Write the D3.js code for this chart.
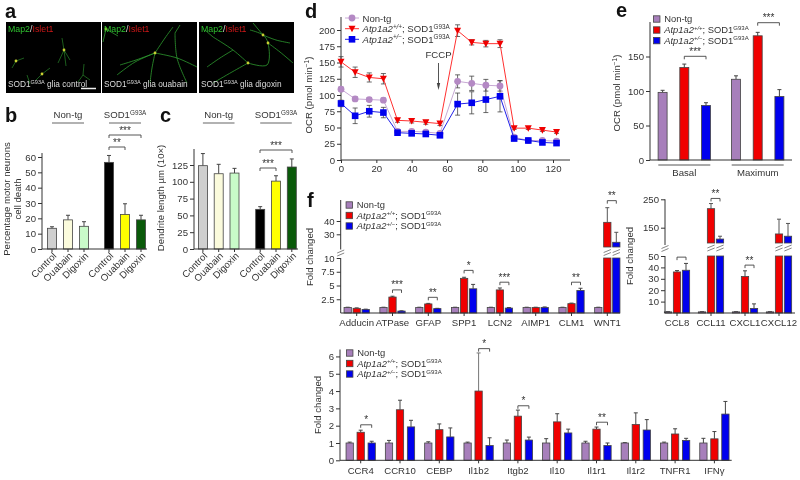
<!DOCTYPE html>
<html><head><meta charset="utf-8">
<script src="https://cdn.jsdelivr.net/npm/d3@7"></script>
<style>
html,body{margin:0;padding:0;background:#fff}
svg{display:block;filter:blur(0.3px)}
text{font-family:"Liberation Sans",Arial,sans-serif;fill:#333;font-size:9.6px}
.dom path,.dom line{stroke:#333;stroke-width:1}
</style></head><body>
<svg id="c" width="800" height="480"></svg>
<script>
// ---- Data ----
const treat = ["Control","Ouabain","Digoxin"];
const bGroups = ["Non-tg","SOD1"];
const bVals = [[13.5,19,14.8],[56.5,22.5,19]];
const bErr  = [[1,3,3],[4.5,7,3]];
const cVals = [[124,112,113],[59,101,122]];
const cErr  = [[18,14,7],[4,8,12]];
const timeMin = [0,8,16,24,32,40,48,56,66,74,82,90,98,106,114,122];
const dNon = [109,94,93,92,44,44,43,41,121,118,115,114,35,30,30,29];
const dNonE= [3,3,3,3,3,3,2,2,10,11,9,8,2,2,2,2];
const dRed = [151,135,127,125,61,60,58,56,199,181,179,179,49,49,46,43];
const dRedE= [8,8,7,8,3,3,3,3,9,4,5,6,2,2,2,2];
const dBlu = [87,68,75,73,42,41,40,38,86,88,93,98,33,30,27,26];
const dBluE= [5,12,9,8,3,3,3,3,17,17,20,24,2,2,2,2];
const eGroups = ["Basal","Maximum"];
const eVals = [[98,134,79],[117,180,92]];
const eErr  = [[3,5,4],[5,5,10]];
const f1Cats = ["Adducin","ATPase","GFAP","SPP1","LCN2","AIMP1","CLM1","WNT1"];
const f1Vals = [[1,.85,.65],[1,2.9,.35],[1,1.65,.8],[1,6.3,4.4],[1,4.2,.9],[1,1,1],[1,1.7,4.1],[1,39,24]];
const f1Err  = [[.05,.08,.05],[.05,.15,.05],[.05,.1,.05],[.05,.2,.8],[.05,.35,.1],[.05,.05,.1],[.05,.1,.4],[.05,11,7.5]];
const f2Cats = ["CCL8","CCL11","CXCL1","CXCL12"];
const f2Vals = [[1,36,37.5],[1,217,110],[1,32,4],[1,128,120]];
const f2Err  = [[.2,1.2,6],[.2,18,10],[.2,5,4],[.2,52,45]];
const f3Cats = ["CCR4","CCR10","CEBP","Il1b2","Itgb2","Il10","Il1r1","Il1r2","TNFR1","IFNγ"];
const f3Vals = [[1,1.62,1],[1,2.92,1.93],[1,1.77,1.35],[1,4,.85],[1,2.55,1.17],[1,2.22,1.58],[1,1.8,.85],[1,2.07,1.75],[1,1.52,1.15],[1,1.24,2.67]];
const f3Err  = [[.05,.12,.1],[.15,.55,.38],[.07,.33,.52],[.05,2.2,.45],[.17,.35,.17],[.25,.47,.22],[.1,.12,.15],[.02,.67,.6],[.05,.3,.12],[.27,.42,.73]];
const threeCols = ["#a77fbb","#f00000","#0000ee"];
const bCols = [["#cfcfcf","#fbfbdc","#c9fbc9"],["#000000","#ffff00","#0a5a0a"]];
const neurons = [
 [[[64,50],[62,38]],[[64,50],[70,60]],[[64,50],[58,63]],[[64,50],[66,66]],[[42,74],[36,80]],[[42,74],[50,68]],[[16,61],[24,58]],[[16,61],[12,68]],[[27,75],[30,84]],[[83,75],[84,64]],[[83,75],[90,80]],[[83,75],[78,82]]],
 [[[155,53],[135,62],[117,75]],[[155,53],[165,38],[173,27]],[[155,53],[177,58],[197,67]],[[155,53],[152,68],[150,83]],[[155,53],[136,60],[120,65]],[[175,33],[177,58],[187,83]],[[106,29],[118,36]],[[106,29],[103,42]],[[175,33],[180,25]]],
 [[[248,63],[233,50],[213,37]],[[248,63],[232,72],[213,83]],[[248,63],[267,65],[268,43],[263,35],[250,30]],[[268,43],[280,52],[293,63]],[[263,35],[276,40],[290,43]],[[233,50],[220,58],[207,67]],[[263,35],[253,23]],[[213,37],[205,30]]]
];
const somas = [[[64,50],[42,74],[16,61]],[[155,53],[106,29]],[[248,63],[263,35],[268,43]]];
const panelCaps = ["glia control","glia ouabain","glia digoxin"];

// ---- Helpers ----
const svg = d3.select("#c");
const defs = svg.append("defs");
defs.append("filter").attr("id","bl").append("feGaussianBlur").attr("stdDeviation",0.5);
const DK="#333";
function txt(x,y,s,o={}){const t=svg.append("text").attr("x",x).attr("y",y).text(s);
  if(o.a)t.attr("text-anchor",o.a); if(o.size)t.style("font-size",o.size+"px");
  if(o.bold)t.style("font-weight","bold"); if(o.fill)t.style("fill",o.fill);
  if(o.rot!=null)t.attr("transform",`rotate(${o.rot} ${x} ${y})`);return t;}
function ln(x1,y1,x2,y2,c=DK,w=1){svg.append("line").attr("x1",x1).attr("y1",y1).attr("x2",x2).attr("y2",y2).attr("stroke",c).attr("stroke-width",w);}
function sodText(x,y,a,size=9.6){
  const t=txt(x,y,"SOD1",{a,size});t.append("tspan").attr("dy",-3.5).style("font-size",(size*0.66)+"px").text("G93A");return t;}
function yAxis(x,scale,vals,fmt,range){
  const g=svg.append("g").attr("class","dom").attr("transform",`translate(${x},0)`)
    .call(d3.axisLeft(scale).tickValues(vals).tickFormat(fmt||d3.format("d")).tickSize(4).tickSizeOuter(0).tickPadding(2));
  if(range)g.select("path.domain").attr("d",`M0,${range[0]}V${range[1]}`);
  return g;}
function bar(x,w,y0,y1,col,stroke="#444"){svg.append("rect").attr("x",x-w/2).attr("width",w).attr("y",Math.min(y0,y1)).attr("height",Math.abs(y0-y1)).attr("fill",col).attr("stroke",stroke).attr("stroke-width",0.8);}
function err(x,yv,yt,c="#444",cap=2){ln(x,yv,x,yt,c,1);ln(x-cap,yt,x+cap,yt,c,1);}
function bracket(x1,x2,y,label){const d=3;svg.append("path").attr("d",`M${x1},${y+d}V${y}H${x2}V${y+d}`).attr("fill","none").attr("stroke","#444").attr("stroke-width",0.9);
  if(label)txt((x1+x2)/2,y-1.5,label,{a:"middle",size:10});}
function slash(x,y,w=6){for(const dy of [-1.5,1.5]) ln(x-w/2,y+dy+1.5,x+w/2,y+dy-1.5,"#666",0.8);}
function legend(x,ys,size=9.4){
  const tx=x+7.5;
  ["Non-tg",1,2].forEach((d,i)=>{
    bar(x,6.5,ys[i]-3.2,ys[i]+3.2,threeCols[i]);
    if(i==0){txt(tx,ys[i]+3.3,"Non-tg",{size});return;}
    const t=txt(tx,ys[i]+3.3,"",{size});
    t.append("tspan").style("font-style","italic").text("Atp1a2");
    t.append("tspan").attr("dy",-3.5).style("font-size",(size*.64)+"px").style("font-style","italic").text(i==1?"+/+":"+/−");
    t.append("tspan").attr("dy",3.5).text("; SOD1");
    t.append("tspan").attr("dy",-3.5).style("font-size",(size*.64)+"px").text("G93A");
  });
}
function ocrLabel(x,y){const t=txt(x,y,"OCR (pmol min",{a:"middle",rot:-90});
  t.append("tspan").attr("dy",-3.5).style("font-size","6.5px").text("−1");t.append("tspan").attr("dy",3.5).text(")");}

// ---- Panel letters ----
[["a",5,18],["b",5,122],["c",160,122],["d",305,18],["e",616,17],["f",307,207]].forEach(d=>txt(d[1],d[2],d[0],{bold:1,size:20,fill:"#111"}));

// ---- a: micrographs ----
const px=[6,102,199], pw=95, py=22, ph=71;
const lineG=d3.line().curve(d3.curveCatmullRom);
px.forEach((x,i)=>{
  svg.append("rect").attr("x",x).attr("y",py).attr("width",pw).attr("height",ph).attr("fill","#000");
  defs.append("clipPath").attr("id","cp"+i).append("rect").attr("x",x).attr("y",py).attr("width",pw).attr("height",ph);
  const g=svg.append("g").attr("clip-path",`url(#cp${i})`).attr("filter","url(#bl)");
  neurons[i].forEach(n=>g.append("path").attr("d",lineG(n)).attr("fill","none").attr("stroke","#2f9a30").attr("stroke-width",i==0?0.6:0.8));
  somas[i].forEach(s=>g.append("circle").attr("cx",s[0]).attr("cy",s[1]).attr("r",1.4).attr("fill","#c8d030"));
  const t=txt(x+2,py+10,"Map2",{size:8.8,fill:"#2fc02f"});
  t.append("tspan").style("fill","#ddd").text("/");t.append("tspan").style("fill","#d01818").text("Islet1");
  const c=txt(x+2,py+65,"SOD1",{size:8.3,fill:"#dcdcdc"});
  c.append("tspan").attr("dy",-3).style("font-size","5.5px").style("fill","#dcdcdc").text("G93A");
  c.append("tspan").attr("dy",3).style("fill","#dcdcdc").text(" "+panelCaps[i]);
});
ln(81,88.5,96,88.5,"#eee",1.5);

// ---- b, c ----
function panelBC(xAx,xEnd,groupX,step,y,ticks,vals,errs,top){
  const x0=d3.scalePoint().domain(bGroups).range(groupX);
  const x1=d3.scalePoint().domain(treat).range([-step,step]);
  bGroups.forEach((g,gi)=>{
    treat.forEach((t,ti)=>{
      const cx=x0(g)+x1(t), v=vals[gi][ti];
      err(cx,y(v),y(v+errs[gi][ti]));
      bar(cx,9,y(0),y(v),bCols[gi][ti]);
      ln(cx,y(0),cx,y(0)+3);
      txt(cx+5,y(0)+7.5,t,{a:"end",rot:-45});
    });
    ln(x0(g)-step,123,x0(g)+step,123,"#999",1.5);
  });
  yAxis(xAx,y,ticks,null,[y(0),top]);
  ln(xAx,y(0),xEnd,y(0));
  txt(x0("Non-tg"),118,"Non-tg",{a:"middle"});
  sodText(x0("SOD1"),118,"middle");
}
const yB=d3.scaleLinear().domain([0,60]).range([249,157]);
panelBC(42,147,[68,125],16,yB,[0,10,20,30,40,50,60],bVals,bErr,153);
bracket(109,125,147,"**"); bracket(109,141,135,"***");
txt(10,199,"Percentage motor neurons",{a:"middle",rot:-90});
txt(21,199,"cell death",{a:"middle",rot:-90});
const yC=d3.scaleLinear().domain([0,150]).range([249,148.2]);
panelBC(194,298,[218.7,276],15.8,yC,[0,25,50,75,100,125],cVals,cErr,149);
bracket(260,276,168,"***"); bracket(260,292,150,"***");
txt(164,198,"Dendrite length µm (10×)",{a:"middle",rot:-90});

// ---- d ----
const xd=d3.scaleLinear().domain([0,120]).range([341,553]);
const yd=d3.scaleLinear().domain([0,220]).range([160,17]);
const series=[[dNon,dNonE,"#b489c4","#c7a8d4"],[dRed,dRedE,"#f00000","#ff3030"],[dBlu,dBluE,"#0000ee","#2020e8"]];
yAxis(341,yd,d3.range(0,201,25),null,[160,17]);
svg.append("g").attr("class","dom").attr("transform","translate(0,160)")
 .call(d3.axisBottom(xd).tickValues(d3.range(0,121,20)).tickSize(3).tickSizeOuter(0).tickPadding(2))
 .select("path.domain").attr("d","M341,0H570");
const line=d3.line().x((d,i)=>xd(timeMin[i])).y(d=>yd(d));
series.forEach(([v,e])=>{ v.forEach((d,i)=>{const x=xd(timeMin[i]);ln(x,yd(d-e[i]),x,yd(d+e[i]),"#444",.8);ln(x-2.5,yd(d+e[i]),x+2.5,yd(d+e[i]),"#444",.8);ln(x-2.5,yd(d-e[i]),x+2.5,yd(d-e[i]),"#444",.8);});});
function marker(si,x,y,c){
  if(si==0) svg.append("circle").attr("cx",x).attr("cy",y).attr("r",3.4).attr("fill",c);
  if(si==1) svg.append("path").attr("d",`M${x-3.5},${y-3}H${x+3.5}L${x},${y+3.6}Z`).attr("fill",c);
  if(si==2) svg.append("rect").attr("x",x-3.3).attr("y",y-3.3).attr("width",6.6).attr("height",6.6).attr("fill",c);
}
series.forEach(([v,e,c,lc],si)=>{
  svg.append("path").attr("d",line(v)).attr("fill","none").attr("stroke",lc).attr("stroke-width",1);
  v.forEach((d,i)=>marker(si,xd(timeMin[i]),yd(d),c));
});
[18,28.7,39.3].forEach((y,i)=>{ln(345,y,359,y,series[i][3],1);marker(i,352,y,series[i][2]);});
txt(362.5,21.5,"Non-tg");
[[32.2,"+/+"],[42.8,"+/−"]].forEach(([y,s])=>{const t=txt(362.5,y,"");
  t.append("tspan").style("font-style","italic").text("Atp1a2");
  t.append("tspan").attr("dy",-3.5).style("font-size","6.3px").style("font-style","italic").text(s);
  t.append("tspan").attr("dy",3.5).text("; SOD1");
  t.append("tspan").attr("dy",-3.5).style("font-size","6.3px").text("G93A");});
txt(438.5,58,"FCCP",{a:"middle"});
ln(438.5,63,438.5,85,"#555",1);
svg.append("path").attr("d","M436.8,83L438.5,90L440.2,83Z").attr("fill","#444");
ocrLabel(312,95);

// ---- e ----
const ye=d3.scaleLinear().domain([0,200]).range([160,22]);
const xe0=d3.scalePoint().domain(eGroups).range([684.3,757.7]);
const xe1=d3.scalePoint().domain([0,1,2]).range([-21.7,21.7]);
eGroups.forEach((g,gi)=>{[0,1,2].forEach(s=>{const x=xe0(g)+xe1(s),v=eVals[gi][s];
  err(x,ye(v),ye(v+eErr[gi][s]));bar(x,9,ye(0),ye(v),threeCols[s]);});
  ln(xe0(g)-26,165,xe0(g)+26,165,"#555",1);
  txt(xe0(g),175.5,g,{a:"middle"});
});
yAxis(650,ye,[0,50,100,150],null,[160,22]);
ln(650,160,792,160);
bracket(xe0("Basal"),xe0("Basal")+21.7,56.3,"***");
bracket(xe0("Maximum"),xe0("Maximum")+21.7,22.7,"***");
legend(656.7,[19,30,40.6]);
ocrLabel(620,93);

// ---- f broken panels ----
function brokenPanel(cats,vals,errs,xc,off,bw,yl,yu,lowMax,lowTop,upBase,xAx,xEnd,lowT,upT,fmtL,hatchY,axTop){
  const x0=d3.scalePoint().domain(cats).range(xc);
  const x1=d3.scalePoint().domain([0,1,2]).range([-off,off]);
  cats.forEach((c,ci)=>{
    [0,1,2].forEach(s=>{const x=x0(c)+x1(s),v=vals[ci][s];
      const y0=yl(0);
      if(v<=lowMax){err(x,yl(v),yl(v+errs[ci][s]));bar(x,bw,y0,yl(v),threeCols[s]);}
      else{err(x,yu(v),yu(v+errs[ci][s]),"#555");bar(x,bw,upBase,yu(v),threeCols[s]);bar(x,bw,y0,lowTop,threeCols[s]);slash(x,hatchY,bw);}
    });
    ln(x0(c),yl(0),x0(c),yl(0)+3);
    txt(x0(c),yl(0)+13,c,{a:"middle"});
  });
  yAxis(xAx,yl,lowT,fmtL,[yl(0),lowTop]);
  yAxis(xAx,yu,upT,null,[hatchY-3,axTop]);
  ln(xAx,yl(0),xEnd,yl(0));
  slash(xAx,hatchY+0.5,7);
  return x0;
}
const yf1l=d3.scaleLinear().domain([0,10]).range([313,258]);
const yf1u=d3.scaleLinear().domain([30,40]).range([234.3,221]);
const xf1=brokenPanel(f1Cats,f1Vals,f1Err,[356.7,607.3],9,7.3,yf1l,yf1u,10,258,247,340.7,620,[2.5,5,7.5,10],[30,40],d=>d%1?d3.format(".1f")(d):d,252.5,200);
[["ATPase",4.2,"***"],["GFAP",2.85,"**"],["SPP1",7.75,"*"],["LCN2",5.6,"***"],["CLM1",5.6,"**"]].forEach(([c,v,s])=>bracket(xf1(c),xf1(c)+9,yf1l(v),s));
bracket(xf1("WNT1"),xf1("WNT1")+9,yf1u(55.3),"**");
legend(349.3,[205,215.5,226]);
txt(313,257,"Fold changed",{a:"middle",rot:-90});

const yf2l=d3.scaleLinear().domain([0,50]).range([313,256]);
const yf2u=d3.scaleLinear().domain([150,250]).range([227.7,199.3]);
const xf2=brokenPanel(f2Cats,f2Vals,f2Err,[677,779],9,7.3,yf2l,yf2u,50,256,243,665,795,[10,20,30,40,50],[150,250],null,248,199.3);
bracket(xf2("CCL8"),xf2("CCL8")+9,yf2l(49),"");
bracket(xf2("CCL11"),xf2("CCL11")+9,yf2u(253),"**");
bracket(xf2("CXCL1"),xf2("CXCL1")+9,yf2l(42),"**");
txt(632.7,256,"Fold changed",{a:"middle",rot:-90});

// ---- f bottom ----
const xf3=d3.scalePoint().domain(f3Cats).range([360.7,714.4]);
const xf3o=d3.scalePoint().domain([0,1,2]).range([-11,11]);
const yf3=d3.scaleLinear().domain([0,6.4]).range([460.3,349.5]);
f3Cats.forEach((c,ci)=>{[0,1,2].forEach(s=>{const x=xf3(c)+xf3o(s),v=f3Vals[ci][s];
  err(x,yf3(v),yf3(v+f3Err[ci][s]),ci==3&&s==1?"#777":"#444");bar(x,7.3,yf3(0),yf3(v),threeCols[s]);});
  ln(xf3(c),yf3(0),xf3(c),yf3(0)+3);
  txt(xf3(c),yf3(0)+13.5,c,{a:"middle"});
});
yAxis(340,yf3,[0,1,2,3,4,5,6],null,[yf3(0),349.5]);
ln(340,yf3(0),731.7,yf3(0));
[["CCR4",2.05,"*"],["Il1b2",6.45,"*"],["Itgb2",3.15,"*"],["Il1r1",2.2,"**"]].forEach(([c,v,s])=>bracket(xf3(c),xf3(c)+11,yf3(v),s));
legend(349.7,[353,363.5,374]);
txt(320.7,405,"Fold changed",{a:"middle",rot:-90});
</script>
</body></html>
